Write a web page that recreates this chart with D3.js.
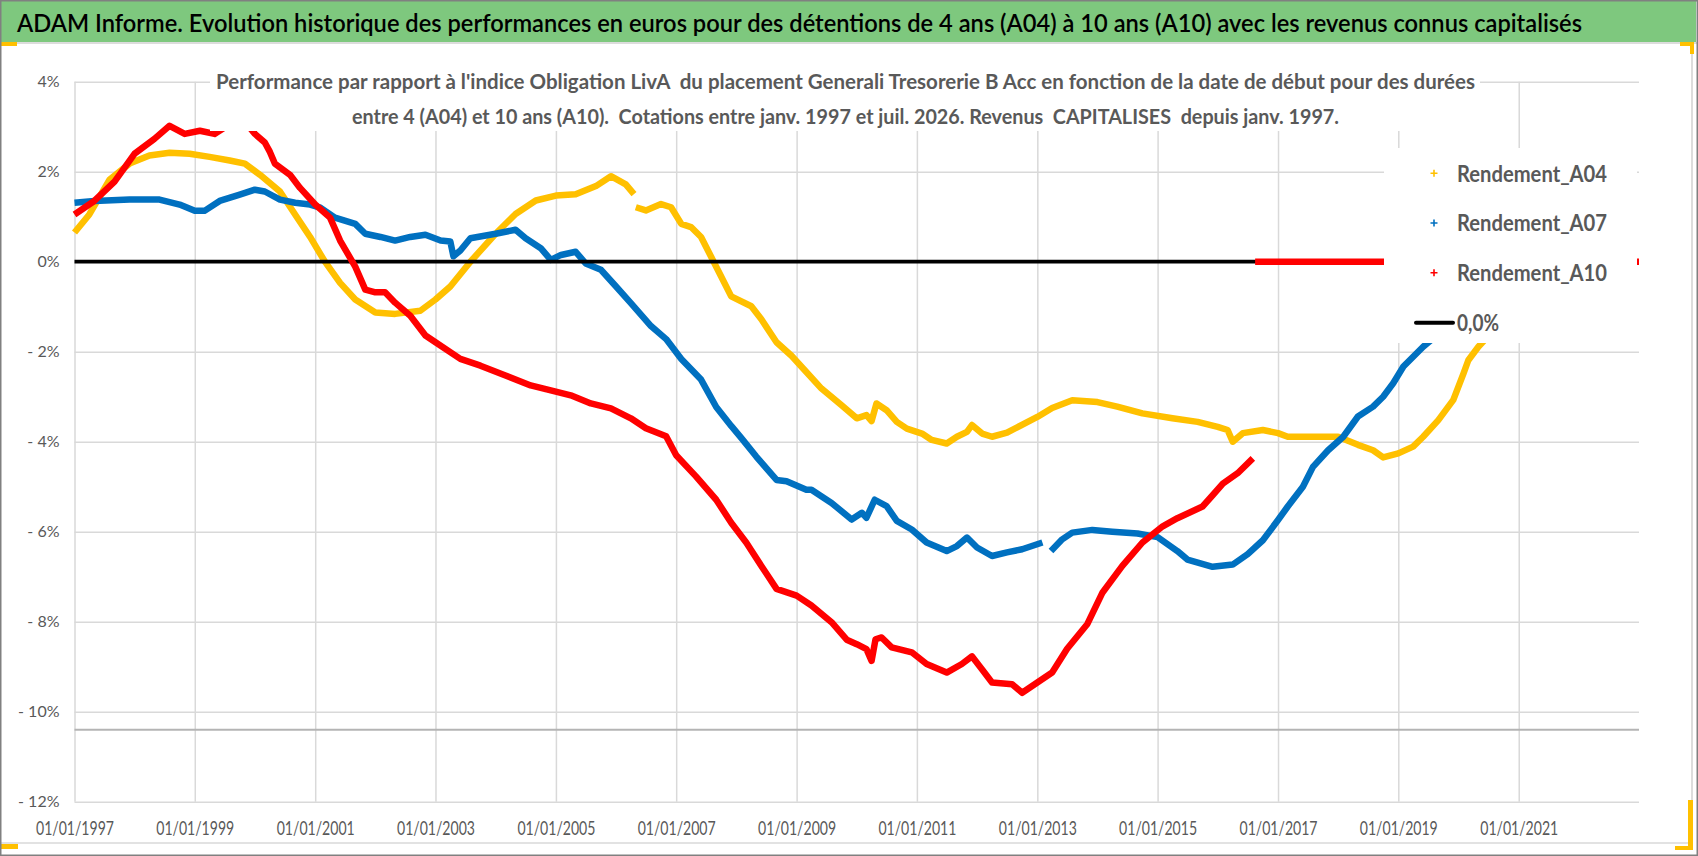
<!DOCTYPE html>
<html>
<head>
<meta charset="utf-8">
<script src="https://d3js.org/d3.v7.min.js"></script>
<style>
  body { margin: 0; background: #fff; }
  text { font-family: Lato, "Noto Sans", sans-serif; white-space: pre; }
</style>
</head>
<body>
<script>
var titleText = "ADAM Informe. Evolution historique des performances en euros pour des détentions de 4 ans (A04) à 10 ans (A10) avec les revenus connus capitalisés";
var subtitleLines = [
  "Performance par rapport à l'indice Obligation LivA  du placement Generali Tresorerie B Acc en fonction de la date de début pour des durées",
  "entre 4 (A04) et 10 ans (A10).  Cotations entre janv. 1997 et juil. 2026. Revenus  CAPITALISES  depuis janv. 1997."
];
var seriesNames = ["Rendement_A04", "Rendement_A07", "Rendement_A10"];
var zeroName = "0,0%";
var yTicks = [4, 2, 0, -2, -4, -6, -8, -10, -12];
var xTickYears = [1997, 1999, 2001, 2003, 2005, 2007, 2009, 2011, 2013, 2015, 2017, 2019, 2021];
var axisCross = -10.4;
var zeroLine = [["1997-01-01", 0], ["2023-01-01", 0]];

// performance (%) by start date; null = gap in the scatter
var rendementA04 = [
  ["1997-01", 0.65], ["1997-04", 1.05], ["1997-08", 1.82], ["1997-12", 2.18], ["1998-04", 2.36],
  ["1998-08", 2.42], ["1998-12", 2.40], ["1999-04", 2.33], ["1999-08", 2.25], ["1999-11", 2.18],
  ["2000-02", 1.93], ["2000-06", 1.56], ["2000-09", 1.05], ["2000-12", 0.55], ["2001-03", 0.0],
  ["2001-06", -0.47], ["2001-09", -0.84], ["2002-01", -1.13], ["2002-05", -1.16], ["2002-10", -1.09],
  ["2003-01", -0.84], ["2003-04", -0.55], ["2003-08", 0.0], ["2004-01", 0.62], ["2004-05", 1.06],
  ["2004-09", 1.36], ["2005-01", 1.47], ["2005-05", 1.50], ["2005-09", 1.68], ["2005-12", 1.90],
  ["2006-03", 1.72], ["2006-04-20", 1.50], ["2006-04-25", null], ["2006-05", 1.21], ["2006-07", 1.14],
  ["2006-10", 1.28], ["2006-12", 1.21], ["2007-02", 0.84], ["2007-04", 0.77], ["2007-06", 0.55],
  ["2007-08", 0.11], ["2007-10", -0.33], ["2007-12", -0.77], ["2008-04", -0.99], ["2008-06", -1.28],
  ["2008-09", -1.79], ["2008-12", -2.09], ["2009-03", -2.45], ["2009-06", -2.82], ["2009-10", -3.19],
  ["2010-01", -3.48], ["2010-03", -3.41], ["2010-04", -3.54], ["2010-05", -3.15], ["2010-07", -3.30],
  ["2010-09", -3.56], ["2010-11", -3.71], ["2011-02", -3.82], ["2011-04", -3.96], ["2011-07", -4.04],
  ["2011-09", -3.89], ["2011-11", -3.78], ["2011-12", -3.63], ["2012-02", -3.82], ["2012-04", -3.89],
  ["2012-07", -3.80], ["2012-09", -3.68], ["2013-01", -3.45], ["2013-04", -3.25], ["2013-08", -3.08],
  ["2014-01", -3.12], ["2014-05", -3.22], ["2014-10", -3.37], ["2015-04", -3.48], ["2015-09", -3.56],
  ["2016-01", -3.67], ["2016-03", -3.74], ["2016-04", -4.00], ["2016-06", -3.81], ["2016-10", -3.74],
  ["2017-01", -3.81], ["2017-03", -3.89], ["2017-08", -3.89], ["2018-01", -3.89], ["2018-05", -4.07],
  ["2018-08", -4.19], ["2018-10", -4.35], ["2019-01", -4.26], ["2019-04", -4.11], ["2019-06", -3.89],
  ["2019-09", -3.52], ["2019-12", -3.07], ["2020-02", -2.48], ["2020-03", -2.19], ["2020-05", -1.89],
  ["2020-09", -1.40]
];

var rendementA07 = [
  ["1997-01", 1.31], ["1997-05", 1.35], ["1997-12", 1.38], ["1998-06", 1.38], ["1998-10", 1.27],
  ["1999-01", 1.13], ["1999-03", 1.13], ["1999-06", 1.35], ["1999-10", 1.49], ["2000-01", 1.60],
  ["2000-03", 1.56], ["2000-06", 1.38], ["2000-09", 1.31], ["2000-12", 1.27], ["2001-02", 1.20],
  ["2001-05", 0.98], ["2001-09", 0.84], ["2001-11", 0.62], ["2002-02", 0.55], ["2002-05", 0.47],
  ["2002-08", 0.55], ["2002-11", 0.60], ["2003-02", 0.47], ["2003-04", 0.45], ["2003-04-20", 0.12],
  ["2003-06", 0.25], ["2003-08", 0.52], ["2004-01", 0.62], ["2004-05", 0.71], ["2004-07", 0.52],
  ["2004-10", 0.30], ["2004-12", 0.04], ["2005-02", 0.15], ["2005-05", 0.22], ["2005-07", -0.04],
  ["2005-10", -0.18], ["2006-01", -0.55], ["2006-04", -0.92], ["2006-08", -1.43], ["2006-11", -1.72],
  ["2007-02", -2.16], ["2007-06", -2.62], ["2007-09", -3.23], ["2007-12", -3.65], ["2008-02", -3.92],
  ["2008-05", -4.33], ["2008-09", -4.85], ["2008-11", -4.88], ["2009-03", -5.07], ["2009-04", -5.07],
  ["2009-08", -5.36], ["2009-12", -5.73], ["2010-02", -5.58], ["2010-03", -5.69], ["2010-04-20", -5.29],
  ["2010-07", -5.43], ["2010-09", -5.76], ["2010-12", -5.95], ["2011-03", -6.24], ["2011-07", -6.43],
  ["2011-09", -6.32], ["2011-11", -6.13], ["2012-01", -6.35], ["2012-04", -6.54], ["2012-07", -6.46],
  ["2012-10", -6.39], ["2013-02", -6.24], ["2013-03-10", null], ["2013-03-25", -6.43], ["2013-06", -6.17],
  ["2013-08", -6.02], ["2013-12", -5.96], ["2014-04", -6.00], ["2014-09", -6.04], ["2015-01", -6.12],
  ["2015-05", -6.43], ["2015-07", -6.62], ["2015-12", -6.78], ["2016-04", -6.73], ["2016-07", -6.50],
  ["2016-10", -6.19], ["2017-01", -5.74], ["2017-03", -5.44], ["2017-06", -5.00], ["2017-08", -4.56],
  ["2017-11", -4.19], ["2018-02", -3.89], ["2018-05", -3.44], ["2018-08", -3.22], ["2018-10", -3.00],
  ["2018-12", -2.70], ["2019-02", -2.33], ["2019-06", -1.89], ["2019-08", -1.70]
];

var rendementA10 = [
  ["1997-01", 1.05], ["1997-05", 1.35], ["1997-09", 1.78], ["1998-01", 2.40], ["1998-05", 2.73],
  ["1998-08", 3.02], ["1998-11", 2.84], ["1999-02", 2.91], ["1999-05", 2.84], ["1999-07", 2.98],
  ["1999-10", 3.05], ["1999-12", 2.98], ["2000-01", 2.84], ["2000-03", 2.65], ["2000-04", 2.44],
  ["2000-05", 2.18], ["2000-08", 1.93], ["2000-10", 1.64], ["2001-01", 1.27], ["2001-04", 0.98],
  ["2001-06", 0.47], ["2001-09", -0.11], ["2001-11", -0.62], ["2002-01", -0.68], ["2002-03", -0.68],
  ["2002-05", -0.91], ["2002-08", -1.20], ["2002-11", -1.64], ["2003-01", -1.79], ["2003-06", -2.16],
  ["2003-10", -2.31], ["2004-03", -2.53], ["2004-08", -2.75], ["2004-12", -2.86], ["2005-04", -2.97],
  ["2005-08", -3.15], ["2005-12", -3.26], ["2006-04", -3.48], ["2006-07", -3.70], ["2006-11", -3.88],
  ["2007-01", -4.30], ["2007-05", -4.77], ["2007-09", -5.29], ["2007-12", -5.80], ["2008-03", -6.24],
  ["2008-06", -6.76], ["2008-09", -7.27], ["2009-01", -7.42], ["2009-04", -7.64], ["2009-08", -8.01],
  ["2009-11", -8.40], ["2010-01", -8.50], ["2010-03", -8.61], ["2010-04", -8.87], ["2010-04-25", -8.39],
  ["2010-06", -8.35], ["2010-08", -8.57], ["2010-12", -8.68], ["2011-03", -8.94], ["2011-07", -9.13],
  ["2011-10", -8.94], ["2011-12", -8.77], ["2012-02", -9.06], ["2012-04", -9.35], ["2012-08", -9.39],
  ["2012-10", -9.58], ["2013-01", -9.35], ["2013-04", -9.13], ["2013-07", -8.60], ["2013-11", -8.05],
  ["2014-02", -7.35], ["2014-06", -6.76], ["2014-10", -6.24], ["2015-02", -5.88], ["2015-05", -5.70],
  ["2015-10", -5.44], ["2015-12", -5.19], ["2016-02", -4.93], ["2016-05", -4.70], ["2016-08-01", -4.37],
  ["2016-08-10", null], ["2016-08-15", 0], ["2023-01-01", 0]
];

var seriesColors = ["#ffc000", "#0070c0", "#ff0000"];

var W = 1698, H = 856;
var parseDay = d3.timeParse("%Y-%m-%d"), parseMonth = d3.timeParse("%Y-%m");
function parse(s) { return s.length === 7 ? parseMonth(s) : parseDay(s); }

var x = d3.scaleTime()
    .domain([parse("1997-01-01"), parse("2023-01-01")])
    .range([74.5, 1639]);
var y = d3.scaleLinear().domain([-12, 4]).range([801.7, 81.7]);

var svg = d3.select("body").append("svg")
    .attr("width", W)
    .attr("height", H);

svg.append("rect").attr("width", W).attr("height", H).attr("fill", "#fff");

// title band
svg.append("rect")
    .attr("x", 1).attr("y", 1).attr("width", W - 3).attr("height", 41)
    .attr("fill", "#7ec87e");
svg.append("line")
    .attr("x1", 0).attr("x2", W).attr("y1", 43).attr("y2", 43)
    .attr("stroke", "#d0d0d0").attr("stroke-width", 1.5);
svg.append("text")
    .attr("x", 17).attr("y", 32)
    .attr("textLength", 1565).attr("lengthAdjust", "spacingAndGlyphs")
    .style("font-size", "25px").style("font-weight", 600).attr("fill", "#000")
    .text(titleText);

// chart area border
svg.append("line").attr("x1", 1692).attr("x2", 1692).attr("y1", 43).attr("y2", 843)
    .attr("stroke", "#d0d0d0").attr("stroke-width", 1.5);
svg.append("line").attr("x1", 0).attr("x2", 1692).attr("y1", 843).attr("y2", 843)
    .attr("stroke", "#d9d9d9").attr("stroke-width", 1.5);

// y axis with gridlines
var yAxis = svg.append("g")
    .attr("transform", "translate(" + x.range()[0] + ",0)")
    .call(d3.axisLeft(y)
      .tickValues(yTicks)
      .tickSize(-(x.range()[1] - x.range()[0]))
      .tickPadding(15)
      .tickFormat(function(d) { return d > 0 ? d + "%" : d < 0 ? "- " + Math.abs(d) + "%" : "0%"; }));
yAxis.select(".domain").remove();
yAxis.selectAll("line").attr("stroke", "#d9d9d9").attr("stroke-width", 1.5);
yAxis.selectAll("text").attr("fill", "#595959").style("font-size", "16px");

// x axis with gridlines
var xAxis = svg.append("g")
    .attr("transform", "translate(0," + y(-12) + ")")
    .call(d3.axisBottom(x)
      .tickValues(xTickYears.map(function(yr) { return new Date(yr, 0, 1); }))
      .tickSize(-(y(-12) - y(4)))
      .tickPadding(20)
      .tickFormat(d3.timeFormat("%d/%m/%Y")));
xAxis.select(".domain").remove();
xAxis.selectAll("line").attr("stroke", "#d9d9d9").attr("stroke-width", 1.5);
xAxis.selectAll("text")
    .attr("fill", "#595959").style("font-size", "18.5px")
    .attr("textLength", 78).attr("lengthAdjust", "spacingAndGlyphs");

// horizontal axis line where it crosses
svg.append("line")
    .attr("x1", x.range()[0]).attr("x2", x.range()[1])
    .attr("y1", y(axisCross)).attr("y2", y(axisCross))
    .attr("stroke", "#b4b4b4").attr("stroke-width", 2);

var line = d3.line()
    .defined(function(d) { return d[1] !== null; })
    .x(function(d) { return x(parse(d[0])); })
    .y(function(d) { return y(d[1]); });

function drawSeries(data, color, width) {
  svg.append("path")
      .datum(data)
      .attr("d", line)
      .attr("fill", "none")
      .attr("stroke", color)
      .attr("stroke-width", width)
      .attr("stroke-linejoin", "round");
}

drawSeries(rendementA04, seriesColors[0], 6.5);
drawSeries(rendementA07, seriesColors[1], 6.5);
drawSeries(zeroLine, "#000", 3.8);
drawSeries(rendementA10, seriesColors[2], 6.5);

// subtitle box (covers the plot like the Excel title)
svg.append("rect")
    .attr("x", 210).attr("y", 52).attr("width", 1270).attr("height", 79)
    .attr("fill", "#fff");
var subPos = [[216, 89.3, 1259], [352, 123.5, 987]];
subtitleLines.forEach(function(s, i) {
  svg.append("text")
      .attr("x", subPos[i][0]).attr("y", subPos[i][1])
      .attr("textLength", subPos[i][2]).attr("lengthAdjust", "spacingAndGlyphs")
      .style("font-size", "21px").style("font-weight", "bold")
      .attr("fill", "#595959")
      .text(s);
});

// legend
svg.append("rect")
    .attr("x", 1384).attr("y", 148).attr("width", 253).attr("height", 195)
    .attr("fill", "#fff");
var legend = svg.selectAll(".legend")
    .data(seriesNames)
  .enter().append("g")
    .attr("class", "legend")
    .attr("transform", function(d, i) { return "translate(1434," + (173.3 + i * 49.7) + ")"; });
legend.append("path")
    .attr("d", "M-3.5,0H3.5M0,-3.5V3.5")
    .attr("stroke", function(d, i) { return seriesColors[i]; })
    .attr("stroke-width", 1.6);
legend.append("text")
    .attr("x", 23).attr("y", 8.4)
    .attr("textLength", 150).attr("lengthAdjust", "spacingAndGlyphs")
    .style("font-size", "23px").style("font-weight", "bold")
    .attr("fill", "#595959")
    .text(String);

var zl = svg.append("g").attr("transform", "translate(1434,322.7)");
zl.append("line").attr("x1", -18).attr("x2", 19).attr("y1", 0).attr("y2", 0)
    .attr("stroke", "#000").attr("stroke-width", 4).attr("stroke-linecap", "round");
zl.append("text")
    .attr("x", 23).attr("y", 8.4)
    .attr("textLength", 42).attr("lengthAdjust", "spacingAndGlyphs")
    .style("font-size", "23px").style("font-weight", "bold")
    .attr("fill", "#595959")
    .text(zeroName);

// selection handles of the original screenshot
[[0, 42, 17, 4], [1680, 42, 14, 4], [1690, 42, 4, 12], [0, 844, 18, 5], [1688, 800, 5, 50], [1675, 846, 18, 4]]
  .forEach(function(r) {
    svg.append("rect").attr("x", r[0]).attr("y", r[1]).attr("width", r[2]).attr("height", r[3])
        .attr("fill", "#ffc000");
  });

// outer frame
svg.append("rect")
    .attr("x", 0.75).attr("y", 0.75).attr("width", W - 1.5).attr("height", H - 1.5)
    .attr("fill", "none").attr("stroke", "#808080").attr("stroke-width", 1.5);
</script>
</body>
</html>
